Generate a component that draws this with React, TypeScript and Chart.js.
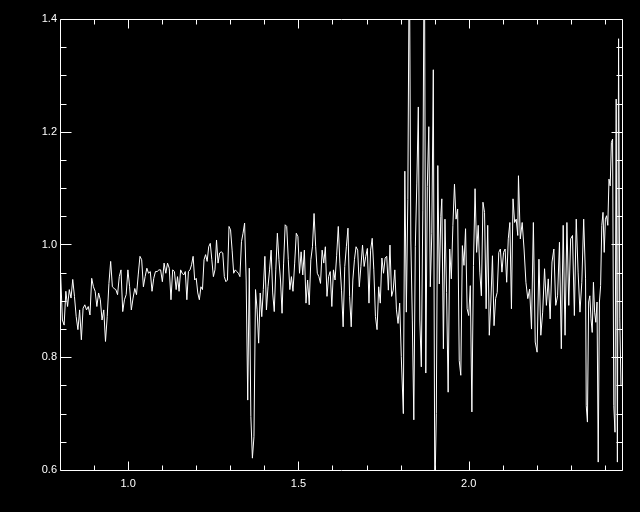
import React, { useEffect, useRef } from "react";
import { Chart, registerables } from "chart.js";

Chart.register(...registerables);

// Normalised flux left to right, in pieces.
// Each piece spans the wavelength range (microns) given in partRanges.
const fluxPartA = [
  0.946, 0.866, 0.857, 0.917, 0.890, 0.920, 0.905, 0.938, 0.908, 0.872,
  0.849, 0.884, 0.831, 0.887, 0.893, 0.884, 0.890, 0.875, 0.940, 0.925,
  0.917, 0.890, 0.914, 0.902, 0.866, 0.884, 0.828, 0.872, 0.931, 0.970,
  0.925, 0.922, 0.920, 0.911, 0.943, 0.955, 0.881, 0.902, 0.911, 0.955,
  0.925, 0.884, 0.905, 0.922, 0.911, 0.946, 0.979, 0.973, 0.925, 0.943,
  0.958, 0.949, 0.952, 0.917, 0.940, 0.952, 0.952, 0.955, 0.955, 0.934,
  0.967, 0.949, 0.967, 0.958, 0.902, 0.955, 0.952, 0.920,
];
const fluxPartB = [
  0.943, 0.917, 0.955, 0.949, 0.946, 0.952, 0.902, 0.952, 0.955, 0.964,
  0.979, 0.937, 0.940, 0.914, 0.902, 0.925, 0.920, 0.973, 0.982, 0.970,
  0.996, 1.002, 0.973, 0.943, 0.955, 1.008, 0.967, 0.985, 0.987, 0.985,
  0.943, 0.934, 0.937, 1.032, 1.026, 0.990, 0.949, 0.955, 0.952, 0.949,
  0.943, 1.005, 1.020, 1.038, 0.937, 0.724, 0.958, 0.695, 0.621, 0.659,
  0.920, 0.884, 0.825, 0.914, 0.872, 0.920, 0.979, 0.884, 0.925, 0.955,
  0.990, 0.914, 0.881, 0.955, 1.020, 0.973, 0.937, 0.878, 0.967, 1.035,
  1.032, 0.973, 0.920, 0.943, 0.917,
];
const fluxPartC = [
  0.967, 1.020, 1.014, 0.949, 0.987, 0.946, 0.990, 0.896, 0.937, 0.893,
  0.973, 0.996, 1.055, 0.996, 0.949, 0.943, 0.931, 0.990, 0.967, 0.996,
  0.908, 0.943, 0.952, 0.890, 0.955, 0.937, 0.981, 1.032, 0.967, 0.919,
  0.854, 0.961, 0.996, 1.029, 0.908, 0.854, 0.937, 0.973, 0.996, 0.990,
  0.925, 0.961, 0.999, 0.961, 0.979, 0.993, 0.896, 0.990, 1.011, 0.955,
  0.872, 0.849, 0.925, 0.896, 0.976, 0.949, 0.976, 0.979, 0.919, 0.999,
  0.908, 0.919, 0.955, 0.884, 0.860, 0.896, 0.801,
];
const fluxPartD = [
  0.700, 1.130, 0.880, 1.080, 1.550, 1.008, 0.866, 0.689, 0.996, 1.109,
  1.244, 0.866, 0.783, 1.061, 1.600, 0.772, 1.103, 1.209, 0.925, 1.020,
  1.310, 0.550, 0.700, 1.140, 0.930, 1.050,
];
const fluxPartE = [
  1.081, 0.815, 1.045, 0.915, 0.738, 0.992, 0.939, 1.034, 1.107, 1.045,
  1.063, 0.794, 0.768, 0.998, 0.963, 1.028, 0.886, 0.874, 0.927, 0.703,
  0.963, 1.099, 0.986, 1.034, 0.951, 0.909, 1.075, 1.057, 0.886, 1.034,
  0.839, 0.898, 0.980, 0.856, 0.904, 0.915, 0.986, 0.992, 0.951, 0.986,
  0.992, 0.933, 1.010, 1.039, 0.886, 1.081, 1.039, 1.045, 1.016,
];
const fluxPartF = [
  1.122, 1.010, 1.039, 0.992, 0.933, 0.904, 0.921, 0.850, 1.039, 0.827,
  0.809, 0.974, 0.839, 0.880, 0.957, 0.892, 0.939, 0.868, 0.969, 0.992,
  0.892, 0.909, 1.004, 0.815, 1.034, 0.839, 1.039, 0.892, 1.010, 1.016,
  0.874, 1.045, 0.951, 0.880, 0.933, 1.045, 0.939,
];
const fluxPartG = [
  0.714, 0.685, 0.898, 0.909, 0.868, 0.844, 0.933, 0.880, 0.862, 0.898,
  0.614, 0.898, 0.927, 1.034, 1.057, 0.986, 1.045, 1.051, 1.034, 1.116,
  1.104, 1.181, 1.187, 0.714, 0.667, 1.258, 0.614, 1.365, 0.868, 0.750,
];

const fluxParts = [fluxPartA, fluxPartB, fluxPartC, fluxPartD, fluxPartE, fluxPartF, fluxPartG];
// [first, last] wavelength of each piece
const partRanges = [
  [0.802, 1.141],
  [1.145, 1.484],
  [1.489, 1.802],
  [1.808, 1.918],
  [1.921, 2.144],
  [2.146, 2.343],
  [2.345, 2.447],
];

// Axes
const X_MIN = 0.8;
const X_MAX = 2.45;
const Y_MIN = 0.6;
const Y_MAX = 1.4;
const xMajorTicks = [1.0, 1.5, 2.0];
const xTickLabels = ["1.0", "1.5", "2.0"];
const xMinorTicks = [0.9, 1.1, 1.2, 1.3, 1.4, 1.6, 1.7, 1.8, 1.9, 2.1, 2.2, 2.3, 2.4];
const yMajorTicks = [0.6, 0.8, 1.0, 1.2, 1.4];
const yTickLabels = ["0.6", "0.8", "1.0", "1.2", "1.4"];
const yMinorTicks = [0.65, 0.7, 0.75, 0.85, 0.9, 0.95, 1.05, 1.1, 1.15, 1.25, 1.3, 1.35];

function buildPoints() {
  const pts: { x: number; y: number }[] = [];
  fluxParts.forEach((part, k) => {
    const [w0, w1] = partRanges[k];
    const step = (w1 - w0) / (part.length - 1);
    part.forEach((f, i) => pts.push({ x: w0 + i * step, y: f }));
  });
  return pts;
}

const framePlugin = {
  id: "idlFrame",
  beforeDraw(chart: any) {
    const { ctx, width, height } = chart;
    ctx.save();
    ctx.fillStyle = "#000";
    ctx.fillRect(0, 0, width, height);
    ctx.restore();
  },
  afterDraw(chart: any) {
    const { ctx, chartArea: a, scales } = chart;
    const xs = scales.x;
    const ys = scales.y;
    const L = Math.round(a.left) + 0.5;
    const R = Math.round(a.right) + 0.5;
    const T = Math.round(a.top) + 0.5;
    const B = Math.round(a.bottom) + 0.5;
    ctx.save();
    ctx.strokeStyle = "#fff";
    ctx.lineWidth = 1;
    ctx.beginPath();
    ctx.moveTo(L, T);
    ctx.lineTo(R, T);
    ctx.lineTo(R, B);
    ctx.lineTo(L, B);
    ctx.closePath();
    const xTick = (v: number, len: number) => {
      const p = Math.round(xs.getPixelForValue(v)) + 0.5;
      ctx.moveTo(p, B);
      ctx.lineTo(p, B - len);
      ctx.moveTo(p, T);
      ctx.lineTo(p, T + len);
    };
    const yTick = (v: number, len: number) => {
      const p = Math.round(ys.getPixelForValue(v)) + 0.5;
      ctx.moveTo(L, p);
      ctx.lineTo(L + len, p);
      ctx.moveTo(R, p);
      ctx.lineTo(R - len, p);
    };
    xMajorTicks.forEach((v) => xTick(v, 9));
    xMinorTicks.forEach((v) => xTick(v, 5));
    yMajorTicks.forEach((v) => yTick(v, 11));
    yMinorTicks.forEach((v) => yTick(v, 6));
    ctx.stroke();
    ctx.restore();
  },
};

export default function App() {
  const canvasRef = useRef<HTMLCanvasElement | null>(null);

  useEffect(() => {
    document.body.style.margin = "0";
    document.body.style.background = "#000";
    const canvas = canvasRef.current;
    if (!canvas) return;
    const points = buildPoints();
    const font = { family: "'Liberation Sans', Arial, sans-serif", size: 11 };

    const chart = new Chart(canvas, {
      type: "line",
      data: {
        datasets: [
          {
            data: points,
            borderColor: "#ffffff",
            borderWidth: 1,
            pointRadius: 0,
            tension: 0,
            fill: false,
          },
        ],
      },
      options: {
        animation: false,
        responsive: false,
        events: [],
        layout: { padding: { left: 0, right: 18, top: 19, bottom: 0 } },
        plugins: {
          legend: { display: false },
          tooltip: { enabled: false },
        },
        scales: {
          x: {
            type: "linear",
            min: X_MIN,
            max: X_MAX,
            grid: { display: false, drawTicks: false },
            border: { display: false },
            afterBuildTicks: (s: any) => {
              s.ticks = xMajorTicks.map((v) => ({ value: v }));
            },
            afterFit: (s: any) => {
              s.height = 42;
            },
            ticks: {
              color: "#ffffff",
              font,
              padding: 7,
              maxRotation: 0,
              autoSkip: false,
              callback: (_v: any, i: number) => xTickLabels[i],
            },
          },
          y: {
            type: "linear",
            min: Y_MIN,
            max: Y_MAX,
            grid: { display: false, drawTicks: false },
            border: { display: false },
            afterBuildTicks: (s: any) => {
              s.ticks = yMajorTicks.map((v) => ({ value: v }));
            },
            afterFit: (s: any) => {
              s.width = 60;
            },
            ticks: {
              color: "#ffffff",
              font,
              padding: 3,
              autoSkip: false,
              callback: (_v: any, i: number) => yTickLabels[i],
            },
          },
        },
      },
      plugins: [framePlugin],
    } as any);

    return () => chart.destroy();
  }, []);

  return (
    <div style={{ width: 640, height: 512, background: "#000" }}>
      <canvas ref={canvasRef} width={640} height={512} style={{ display: "block" }} />
    </div>
  );
}
